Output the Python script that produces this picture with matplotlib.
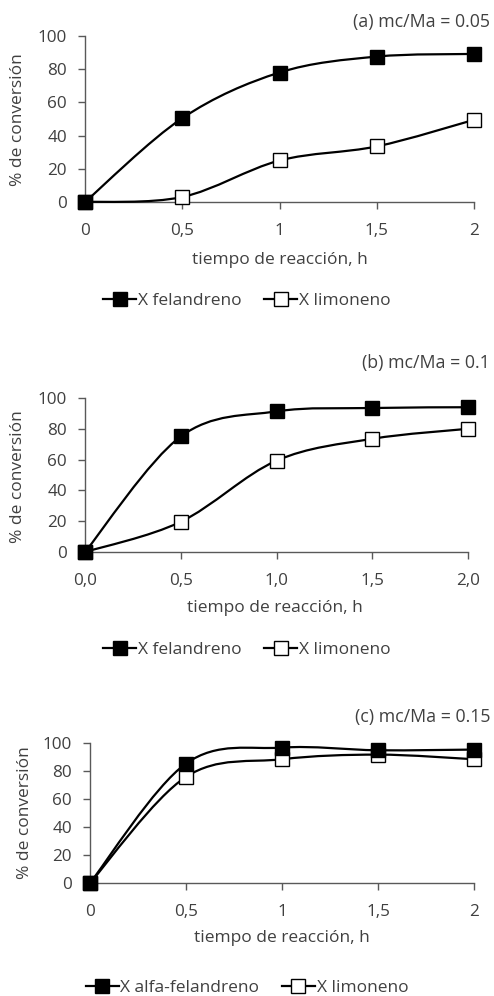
import numpy as np
import matplotlib
matplotlib.use("Agg")
import matplotlib.pyplot as plt
from matplotlib.path import Path
from matplotlib.patches import PathPatch
from matplotlib.lines import Line2D
from matplotlib.ticker import FuncFormatter

plt.rcParams['font.family'] = ['Open Sans', 'DejaVu Sans']

time_h = [0, 0.5, 1, 1.5, 2]

# (a) mc/Ma = 0.05
a_felandreno = [0, 50.5, 78, 87.6, 89.2]
a_limoneno = [0, 3, 25, 33.5, 49.5]
# (b) mc/Ma = 0.1
b_felandreno = [0, 75, 91.3, 93.5, 94]
b_limoneno = [0, 19.6, 59.3, 73.5, 80]
# (c) mc/Ma = 0.15
c_felandreno = [0, 85.3, 96.7, 94.8, 95.3]
c_limoneno = [0, 75.8, 88.4, 91.7, 88.4]

titles = ["(a) mc/Ma = 0.05", "(b) mc/Ma = 0.1", "(c) mc/Ma = 0.15"]
legend_first = ["X felandreno", "X felandreno", "X alfa-felandreno"]
legend_second = "X limoneno"
xlabel = "tiempo de reacción, h"
ylabel = "% de conversión"
yticks = [0, 20, 40, 60, 80, 100]

TXT = "#404040"
SPINE = "#595959"

fig = plt.figure(figsize=(4.94, 9.96), dpi=100)


def smooth_path(x, y):
    pts = np.column_stack([x, y]).astype(float)
    n = len(pts)
    verts = [pts[0]]
    codes = [Path.MOVETO]
    for i in range(n - 1):
        p0 = pts[i - 1] if i > 0 else pts[i]
        p1 = pts[i]
        p2 = pts[i + 1]
        p3 = pts[i + 2] if i + 2 < n else pts[i + 1]
        c1 = p1 + (p2 - p0) / 6.0
        c2 = p2 - (p3 - p1) / 6.0
        verts += [c1, c2, p2]
        codes += [Path.CURVE4] * 3
    return Path(verts, codes)


def px(x, y):
    return x / 494.0, 1 - y / 996.0


panels = [
    dict(rect=(85, 36, 474, 202), data=(a_felandreno, a_limoneno), xfmt="{:g}",
         title_y=22, xlabel_xy=(280, 260), ylabel_xy=(18, 120), legend_y=301),
    dict(rect=(85, 398, 468, 552), data=(b_felandreno, b_limoneno), xfmt="{:.1f}",
         title_y=363, xlabel_xy=(275, 608), ylabel_xy=(18, 477), legend_y=650),
    dict(rect=(90, 743, 474, 883), data=(c_felandreno, c_limoneno), xfmt="{:g}",
         title_y=717, xlabel_xy=(282, 938), ylabel_xy=(25, 813), legend_y=988),
]

for k, p in enumerate(panels):
    x0, y0, x1, y1 = p['rect']
    ax = fig.add_axes([x0 / 494, 1 - y1 / 996, (x1 - x0) / 494, (y1 - y0) / 996])
    ax.set_xlim(0, 2)
    ax.set_ylim(0, 100)
    for s in ['top', 'right']:
        ax.spines[s].set_visible(False)
    for s in ['left', 'bottom']:
        ax.spines[s].set_color(SPINE)
        ax.spines[s].set_linewidth(1.0)
    ax.set_xticks(time_h)
    fmt = p['xfmt']
    ax.xaxis.set_major_formatter(FuncFormatter(lambda v, pos, fmt=fmt: fmt.format(v).replace('.', ',')))
    ax.set_yticks(yticks)
    ax.tick_params(axis='both', colors=SPINE, labelcolor=TXT, labelsize=12.3, length=5, width=1)
    ax.tick_params(axis='x', pad=10)
    ax.tick_params(axis='y', pad=8)

    fel, lim = p['data']
    for ys, face in ((lim, 'white'), (fel, 'black')):
        patch = PathPatch(smooth_path(time_h, ys), facecolor='none', edgecolor='black',
                          lw=1.6, clip_on=False, zorder=3)
        ax.add_patch(patch)
        ax.plot(time_h, ys, ls='none', marker='s', markersize=9.8, markerfacecolor=face,
                markeredgecolor='black', markeredgewidth=1.0, clip_on=False, zorder=4)

    tx, ty = px(490, p['title_y'])
    fig.text(tx, ty, titles[k], ha='right', va='center', fontsize=12.8, color=TXT)
    lx, ly = px(*p['xlabel_xy'])
    fig.text(lx, ly, xlabel, ha='center', va='center', fontsize=12.5, color=TXT)
    yx, yy = px(*p['ylabel_xy'])
    fig.text(yx, yy, ylabel, ha='center', va='center', rotation=90, fontsize=12.5, color=TXT)

    handles = [
        Line2D([], [], color='black', lw=1.6, marker='s', markersize=9.5,
               markerfacecolor='black', markeredgecolor='black'),
        Line2D([], [], color='black', lw=1.6, marker='s', markersize=9.5,
               markerfacecolor='white', markeredgecolor='black'),
    ]
    gx, gy = px(247, p['legend_y'])
    leg = fig.legend(handles, [legend_first[k], legend_second], loc='center',
                     bbox_to_anchor=(gx, gy), ncol=2, frameon=False, fontsize=12.5,
                     handlelength=1.9, handletextpad=0.1, columnspacing=1.3,
                     borderaxespad=0, borderpad=0)
    for t in leg.get_texts():
        t.set_color(TXT)

fig.savefig("out.png", dpi=100, facecolor='white')
